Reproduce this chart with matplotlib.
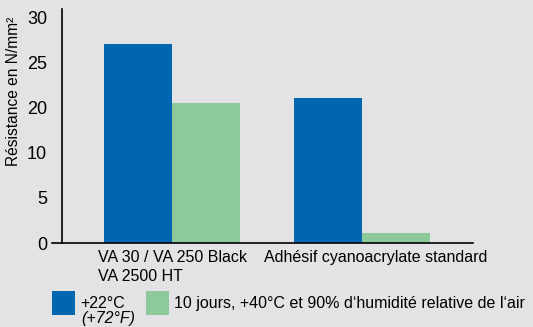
import numpy as np
import matplotlib
matplotlib.use("Agg")
import matplotlib.pyplot as plt
from matplotlib.transforms import ScaledTranslation

plt.rcParams['font.family'] = ['Liberation Sans', 'DejaVu Sans']

categories = ["VA 30 / VA 250 Black\nVA 2500 HT", "Adhésif cyanoacrylate standard"]
series_labels = ["+22°C", "10 jours, +40°C et 90% d‘humidité relative de l‘air"]
values_22 = [27.0, 21.0]
values_humid = [20.5, 1.1]
ytick_values = [0, 5, 10, 20, 25, 30]
ytick_labels = ["0", "5", "10", "20", "25", "30"]

BG = "#e3e3e5"
BLUE = "#0066b2"
GREEN = "#8ec99b"

def fwd(v):
    v = np.asarray(v, dtype=float)
    return np.where(v <= 10, v, np.where(v <= 20, 10 + (v - 10) / 2, v - 5))

def inv(t):
    t = np.asarray(t, dtype=float)
    return np.where(t <= 10, t, np.where(t <= 15, 10 + (t - 10) * 2, t + 5))

W, H = 533, 327
fig = plt.figure(figsize=(W / 100, H / 100), dpi=100, facecolor=BG)
ax = fig.add_axes([62 / W, (H - 243) / H, 411 / W, 234 / H])
ax.set_facecolor(BG)

x = np.arange(len(categories))
w = 0.36
b1 = ax.bar(x - w / 2, values_22, w, color=BLUE, label=series_labels[0])
b2 = ax.bar(x + w / 2, values_humid, w, color=GREEN, label=series_labels[1])

ax.set_yscale('function', functions=(fwd, inv))
ax.set_ylim(0, 30.9)
ax.set_xlim(-0.579, 1.584)
ax.set_yticks(ytick_values)
ax.set_yticklabels(ytick_labels)
ax.tick_params(axis='y', length=0, pad=10.8, labelsize=13)
ax.set_xticks(x)
ax.set_xticklabels(categories, fontsize=11.5)
ax.tick_params(axis='x', length=0, pad=5)
for lbl in ax.get_xticklabels():
    lbl.set_multialignment('left')
    lbl.set_linespacing(1.35)
lbls = ax.get_xticklabels()
lbls[1].set_transform(lbls[1].get_transform() + ScaledTranslation(14 / 100, 0, fig.dpi_scale_trans))

for s in ['top', 'right']:
    ax.spines[s].set_visible(False)
for s in ['left', 'bottom']:
    ax.spines[s].set_linewidth(1.2)
    ax.spines[s].set_color('black')
# small extension of the zero line to the left of the axis
ax.plot([-10 / 411, 0], [0, 0], transform=ax.transAxes, color='black', lw=1.2, clip_on=False)

ax.set_ylabel("Résistance en N/mm²", fontsize=11.2)
ax.yaxis.set_label_coords(-0.1, 0.65)

leg = fig.legend(handles=[b1, b2], labels=series_labels, loc='center left',
                 bbox_to_anchor=(52 / W, (H - 303) / H), ncol=2, frameon=False,
                 fontsize=11.5, handlelength=1.45, handleheight=1.85, handletextpad=0.3,
                 columnspacing=1.35, borderpad=0, borderaxespad=0)
fig.text(81 / W, (H - 318) / H, "(+72°F)", fontsize=11.5, style='italic',
         ha='left', va='center')

fig.savefig("out.png", dpi=100, facecolor=BG)
